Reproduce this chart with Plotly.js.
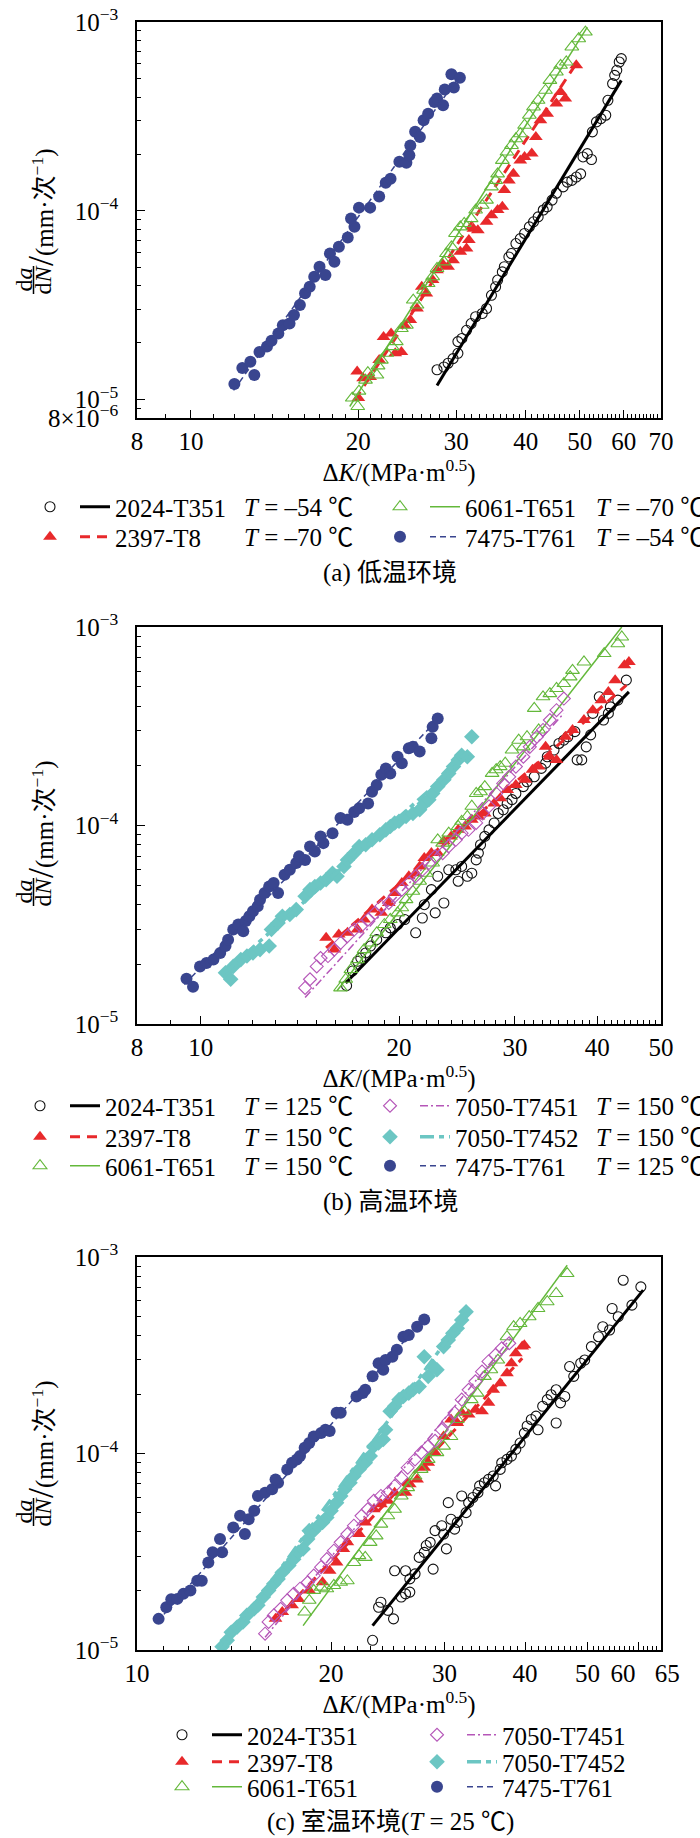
<!DOCTYPE html>
<html>
<head>
<meta charset="utf-8">
<script src="https://cdn.plot.ly/plotly-3.0.1.min.js"></script>
<style>html,body{margin:0;padding:0;background:#fff}#chart{width:700px;height:1838px}</style>
</head>
<body>
<div id="chart"></div>
<script>
// ---------------- DATA ----------------
// Panel (a) low temperature
const a2024K  = [27.7,28.5,29.0,29.6,30.2,30.2,30.7,31.3,31.9,32.5,33.4,34.0,34.7,35.3,35.6,36.3,36.6,37.3,37.7,38.4,39.1,39.8,40.6,41.3,42.1,43.0,43.7,44.6,45.4,46.7,47.5,48.4,49.3,50.2,50.7,51.6,52.5,52.7,53.6,54.6,55.7,56.2,57.3,57.8,58.3,58.9,59.4];
const a2024Da = [1.44e-5,1.49e-5,1.56e-5,1.65e-5,1.76e-5,2.03e-5,2.11e-5,2.33e-5,2.53e-5,2.75e-5,2.86e-5,3.04e-5,3.57e-5,3.96e-5,4.30e-5,4.75e-5,5.06e-5,5.70e-5,5.94e-5,6.71e-5,7.13e-5,7.59e-5,8.23e-5,8.75e-5,9.29e-5,1.01e-4,1.05e-4,1.14e-4,1.24e-4,1.34e-4,1.42e-4,1.45e-4,1.51e-4,1.57e-4,1.93e-4,2.01e-4,1.87e-4,2.62e-4,2.96e-4,3.08e-4,3.21e-4,3.85e-4,4.72e-4,5.22e-4,5.55e-4,6.14e-4,6.4e-4];
const a2024FitK = [27.7, 59.4];
const a2024FitDa = [1.19e-5, 4.91e-4];

const a2397K  = [19.9,20.0,20.4,21.0,21.8,22.2,22.9,23.3,23.9,24.2,24.8,25.5,26.0,26.5,27.2,27.7,28.3,29.0,29.6,30.5,31.3,31.6,32.2,32.8,34.0,34.7,35.6,36.3,36.6,37.3,38.0,39.1,39.8,41.0,41.7,42.5,43.7,45.4,46.2,47.1,49.3];
const a2397Da = [1.41e-5,1.02e-5,1.30e-5,1.32e-5,1.62e-5,2.15e-5,2.24e-5,1.76e-5,1.79e-5,2.48e-5,2.64e-5,3.04e-5,3.96e-5,3.65e-5,4.30e-5,4.85e-5,5.26e-5,5.06e-5,5.48e-5,6.07e-5,6.31e-5,7.0e-5,8.05e-5,7.9e-5,8.75e-5,9.48e-5,1.01e-4,1.05e-4,1.29e-4,1.45e-4,1.57e-4,1.85e-4,1.93e-4,2.01e-4,2.46e-4,3.02e-4,3.27e-4,3.70e-4,4.26e-4,3.93e-4,5.90e-4];
const a2397FitK = [19.7, 49.3];
const a2397FitDa = [9.96e-6, 6.03e-4];

const a6061K  = [19.5,19.95,20.05,20.6,20.8,21.6,21.7,22.0,22.5,23.0,23.4,23.9,24.4,25.1,25.5,26.2,26.7,27.2,27.7,28.5,28.8,29.4,29.9,30.5,31.0,31.9,32.5,33.4,34.0,34.7,35.3,35.6,36.3,37.0,37.7,38.4,39.1,39.8,40.6,41.3,42.1,43.4,44.2,45.4,46.2,47.3,48.4,49.8,51.2];
const a6061Da = [1.02e-5,9.2e-6,1.11e-5,1.27e-5,1.39e-5,1.35e-5,1.51e-5,1.62e-5,1.76e-5,1.91e-5,2.03e-5,2.38e-5,2.48e-5,3.37e-5,3.17e-5,3.80e-5,4.12e-5,4.48e-5,4.95e-5,5.37e-5,5.94e-5,6.45e-5,7.59e-5,8.23e-5,8.57e-5,9.1e-5,1.01e-4,1.07e-4,1.14e-4,1.34e-4,1.45e-4,1.57e-4,1.85e-4,2.05e-4,2.22e-4,2.41e-4,2.56e-4,2.84e-4,3.21e-4,3.55e-4,3.85e-4,4.35e-4,4.91e-4,5.44e-4,5.90e-4,6.14e-4,7.38e-4,8.16e-4,8.85e-4];
const a6061FitK = [19.3, 51.6];
const a6061FitDa = [9.2e-6, 9.4e-4];

const a7475K  = [11.97,12.37,12.79,13.0,13.28,13.7,13.96,14.36,14.63,15.04,15.32,15.7,16.04,16.35,16.66,17.03,17.45,17.78,18.11,18.45,19.14,19.4,19.68,20.05,21.0,21.8,22.4,22.85,23.7,24.4,24.7,24.8,25.3,25.8,26.2,26.7,27.4,27.7,28.4,28.6,29.4,29.7,30.45];
const a7475Da = [1.21e-5,1.47e-5,1.59e-5,1.35e-5,1.79e-5,1.91e-5,2.05e-5,2.24e-5,2.48e-5,2.53e-5,2.81e-5,3.17e-5,3.66e-5,3.96e-5,4.48e-5,5.06e-5,4.57e-5,5.94e-5,5.37e-5,6.45e-5,7.23e-5,9.1e-5,8.23e-5,1.04e-4,1.04e-4,1.19e-4,1.41e-4,1.48e-4,1.82e-4,1.80e-4,1.97e-4,2.22e-4,2.62e-4,2.46e-4,3.02e-4,3.27e-4,3.77e-4,3.93e-4,3.62e-4,4.39e-4,5.29e-4,4.50e-4,5.07e-4];
const a7475FitK = [11.93, 30.45];
const a7475FitDa = [1.12e-5, 5.22e-4];

// Panel (b) high temperature
const b2024K  = [16.65,17.0,17.3,17.5,17.8,18.1,18.5,19.1,19.4,19.9,20.4,21.2,21.7,21.85,22.7,23.4,22.4,22.9,23.8,24.4,24.9,24.6,25.4,25.8,26.2,26.4,26.6,27.0,27.4,27.9,28.3,28.8,29.2,29.7,30.1,30.9,31.3,32.1,32.9,33.4,33.6,34.4,35.0,35.6,36.1,37.0,37.3,37.9,38.5,39.1,39.4,40.3,40.9,41.6,41.9,43.0,44.3];
const b2024Da = [1.56e-5,1.85e-5,2.07e-5,2.15e-5,2.28e-5,2.47e-5,2.66e-5,2.88e-5,3.05e-5,3.17e-5,3.36e-5,2.88e-5,3.42e-5,3.99e-5,3.63e-5,4.07e-5,4.75e-5,5.55e-5,5.98e-5,5.98e-5,6.22e-5,5.24e-5,5.55e-5,5.75e-5,6.71e-5,7.26e-5,8.0e-5,8.81e-5,9.51e-5,1.03e-4,1.15e-4,1.20e-4,1.29e-4,1.35e-4,1.45e-4,1.57e-4,1.66e-4,1.76e-4,1.94e-4,2.06e-4,2.22e-4,2.40e-4,2.59e-4,2.69e-4,2.80e-4,2.97e-4,2.14e-4,2.14e-4,2.49e-4,2.86e-4,3.67e-4,4.45e-4,3.40e-4,3.67e-4,3.96e-4,4.28e-4,5.40e-4];
const b2024FitK = [16.6, 44.7];
const b2024FitDa = [1.61e-5, 4.71e-4];

const b2397K  = [15.5,15.95,16.2,16.7,17.3,17.7,18.2,18.8,19.3,19.7,20.2,20.7,21.2,21.5,21.85,22.4,22.9,23.4,24.0,24.6,25.2,25.8,26.4,27.0,27.9,28.5,29.2,30.1,31.1,31.9,32.6,33.4,33.9,34.7,35.8,36.7,38.2,39.4,40.6,41.6,42.6,44.0,44.7];
const b2397Da = [2.72e-5,2.37e-5,2.82e-5,2.88e-5,2.99e-5,3.36e-5,3.77e-5,3.63e-5,4.07e-5,4.57e-5,5.13e-5,5.55e-5,5.75e-5,6.22e-5,6.86e-5,7.26e-5,7.26e-5,8.32e-5,8.81e-5,9.51e-5,9.89e-5,1.07e-4,1.11e-4,1.15e-4,1.29e-4,1.37e-4,1.51e-4,1.60e-4,1.70e-4,1.91e-4,1.98e-4,2.49e-4,2.22e-4,2.14e-4,2.80e-4,3.03e-4,3.40e-4,3.81e-4,4.28e-4,4.71e-4,5.40e-4,6.41e-4,6.67e-4];
const b2397FitK = [15.5, 44.3];
const b2397FitDa = [2.42e-5, 5.09e-4];

const b6061K  = [16.3,16.6,16.9,17.3,17.7,18.1,18.5,19.0,19.4,19.9,20.2,20.5,21.0,21.5,22.0,22.5,22.9,23.3,23.8,24.6,24.9,25.4,25.8,26.2,26.6,27.0,27.7,28.1,28.5,29.0,29.7,30.4,30.9,31.3,32.1,32.6,33.1,33.9,34.7,35.6,36.4,36.7,38.2,41.0,43.0,43.6];
const b6061Da = [1.52e-5,1.68e-5,1.88e-5,2.11e-5,2.37e-5,2.56e-5,2.88e-5,3.17e-5,3.36e-5,3.63e-5,3.85e-5,4.23e-5,4.66e-5,5.24e-5,5.75e-5,6.47e-5,8.47e-5,8.15e-5,9.15e-5,9.89e-5,1.05e-4,1.11e-4,1.25e-4,1.45e-4,1.48e-4,1.57e-4,1.83e-4,1.91e-4,1.98e-4,2.06e-4,2.40e-4,2.69e-4,2.49e-4,2.80e-4,3.89e-4,3.03e-4,4.45e-4,4.62e-4,4.90e-4,5.19e-4,5.61e-4,6.05e-4,6.67e-4,7.35e-4,8.24e-4,8.91e-4];
const b6061FitK = [16.1, 43.6];
const b6061FitDa = [1.47e-5, 1.0e-3];

const b7451K  = [14.4,14.65,15.0,15.2,15.6,15.95,16.3,16.7,17.1,17.5,17.95,18.4,18.8,19.3,19.7,20.2,20.7,21.2,21.7,22.2,22.7,23.3,23.8,24.4,24.9,25.5,26.2,26.8,27.4,28.1,28.8,29.4,30.1,30.9,31.6,32.4,33.1,33.9,34.7,35.6];
const b7451Da = [1.52e-5,1.68e-5,1.95e-5,2.15e-5,2.20e-5,2.37e-5,2.56e-5,2.77e-5,2.99e-5,3.10e-5,3.36e-5,3.63e-5,3.92e-5,4.07e-5,4.40e-5,4.75e-5,5.13e-5,5.55e-5,5.98e-5,6.47e-5,6.99e-5,7.26e-5,7.84e-5,8.47e-5,9.15e-5,9.51e-5,1.03e-4,1.15e-4,1.25e-4,1.45e-4,1.63e-4,1.76e-4,1.98e-4,2.22e-4,2.49e-4,2.80e-4,3.03e-4,3.40e-4,3.81e-4,4.36e-4];
const b7451FitK = [14.4, 35.6];
const b7451FitDa = [1.36e-5, 3.67e-4];

const b7452K  = [10.9,11.1,11.2,11.5,11.75,12.0,12.3,12.7,12.8,13.1,13.3,13.65,13.96,14.4,14.65,14.9,15.2,15.5,15.85,16.1,16.5,16.7,17.1,17.4,17.8,18.2,18.7,19.1,19.4,19.7,20.0,20.5,21.0,21.5,21.85,22.2,22.5,22.9,23.4,23.8,24.2,24.6,24.9,25.4,25.8];
const b7452Da = [1.81e-5,1.68e-5,1.95e-5,2.11e-5,2.20e-5,2.28e-5,2.37e-5,2.47e-5,2.99e-5,3.23e-5,3.49e-5,3.56e-5,3.77e-5,4.40e-5,4.75e-5,4.93e-5,5.13e-5,5.33e-5,5.75e-5,5.55e-5,6.22e-5,6.71e-5,7.26e-5,7.84e-5,8.0e-5,8.47e-5,8.98e-5,9.51e-5,9.89e-5,1.03e-4,1.05e-4,1.11e-4,1.15e-4,1.20e-4,1.29e-4,1.35e-4,1.45e-4,1.57e-4,1.70e-4,1.83e-4,1.98e-4,2.14e-4,2.26e-4,2.22e-4,2.80e-4];
const b7452FitK = [10.8, 25.5];
const b7452FitDa = [1.78e-5, 2.26e-4];

const b7475K  = [9.51,9.73,9.97,10.2,10.45,10.7,10.9,11.0,11.2,11.4,11.6,11.7,11.85,12.0,12.2,12.3,12.5,12.7,12.9,13.1,13.4,13.65,13.96,14.1,14.4,14.65,14.9,15.2,15.35,15.85,16.3,16.7,17.1,17.4,17.95,18.2,18.5,18.8,19.1,19.4,19.9,20.2,20.7,21.0,21.5,22.4,22.5,22.9];
const b7475Da = [1.69e-5,1.54e-5,1.95e-5,2.03e-5,2.11e-5,2.28e-5,2.47e-5,2.66e-5,2.99e-5,3.17e-5,2.93e-5,3.30e-5,3.49e-5,3.70e-5,3.92e-5,4.23e-5,4.57e-5,4.93e-5,5.13e-5,4.57e-5,5.65e-5,5.98e-5,6.47e-5,6.99e-5,6.71e-5,7.84e-5,7.40e-5,8.81e-5,8.15e-5,9.15e-5,1.09e-4,1.07e-4,1.17e-4,1.22e-4,1.29e-4,1.48e-4,1.60e-4,1.80e-4,1.94e-4,1.83e-4,2.22e-4,2.06e-4,2.45e-4,2.49e-4,2.36e-4,2.75e-4,3.14e-4,3.46e-4];
const b7475FitK = [9.44, 23.1];
const b7475FitDa = [1.58e-5, 3.53e-4];

// Panel (c) room temperature
const c2024K  = [23.2,23.7,23.9,24.5,25.0,25.1,25.7,26.1,26.5,26.1,26.5,27.0,27.4,27.9,28.1,28.5,28.8,29.0,29.7,29.9,30.2,30.7,31.1,31.4,31.9,30.4,32.4,32.7,33.2,33.8,34.0,34.6,35.1,35.7,36.0,36.6,36.8,37.5,38.1,38.7,39.3,39.9,40.3,40.9,41.6,41.9,42.6,43.3,43.9,44.7,44.7,45.4,46.1,46.9,47.6,48.8,49.5,50.7,52.0,52.8,54.1,54.6,55.8,56.8,58.6,60.5];
const c2024Da = [1.12e-5,1.65e-5,1.75e-5,1.59e-5,1.44e-5,2.53e-5,1.86e-5,1.93e-5,1.97e-5,2.53e-5,2.30e-5,2.44e-5,2.96e-5,3.14e-5,3.40e-5,3.53e-5,2.58e-5,4.05e-5,4.29e-5,3.89e-5,3.27e-5,4.63e-5,4.12e-5,4.46e-5,6.08e-5,5.62e-5,5.00e-5,5.62e-5,5.97e-5,6.32e-5,6.84e-5,7.10e-5,7.38e-5,7.68e-5,6.84e-5,8.30e-5,8.97e-5,9.33e-5,9.70e-5,1.05e-4,1.13e-4,1.27e-4,1.38e-4,1.49e-4,1.55e-4,1.32e-4,1.74e-4,1.88e-4,1.99e-4,2.11e-4,1.43e-4,1.81e-4,1.95e-4,2.77e-4,2.47e-4,2.88e-4,2.99e-4,3.50e-4,3.93e-4,4.42e-4,4.25e-4,5.47e-4,4.97e-4,7.62e-4,5.69e-4,7.05e-4];
const c2024FitK = [23.2, 61.0];
const c2024FitDa = [1.33e-5, 6.78e-4];

const c2397K  = [16.4,16.8,17.4,17.8,18.5,19.4,19.9,20.4,20.9,21.2,22.1,22.6,23.3,23.9,24.5,25.1,26.1,26.5,27.2,27.9,28.3,29.0,29.9,30.7,31.4,31.9,32.7,33.5,34.3,35.1,35.7,36.6,37.5,38.1,38.7,39.6,39.9];
const c2397Da = [1.44e-5,1.56e-5,1.69e-5,1.82e-5,2.01e-5,2.21e-5,2.53e-5,2.79e-5,3.27e-5,3.53e-5,3.89e-5,4.46e-5,5.20e-5,5.52e-5,5.74e-5,6.32e-5,6.32e-5,6.97e-5,7.38e-5,8.47e-5,8.97e-5,1.01e-4,1.22e-4,1.49e-4,1.43e-4,1.61e-4,1.58e-4,1.67e-4,1.64e-4,1.81e-4,2.11e-4,2.28e-4,2.56e-4,2.88e-4,3.24e-4,3.50e-4,3.56e-4];
const c2397FitK = [16.3, 39.6];
const c2397FitDa = [1.39e-5, 3.05e-4];

const c6061K  = [18.2,18.5,18.8,19.3,19.7,20.2,20.7,21.2,21.7,22.1,22.6,23.0,23.5,23.9,24.5,25.1,25.7,26.3,27.0,27.6,28.3,29.2,29.9,30.7,31.4,32.2,33.0,33.7,34.6,35.4,36.3,37.5,38.4,39.3,40.6,41.9,43.3,44.7,46.5];
const c6061Da = [1.56e-5,1.79e-5,2.01e-5,2.09e-5,2.05e-5,2.13e-5,2.21e-5,2.25e-5,2.79e-5,3.02e-5,2.96e-5,3.53e-5,3.81e-5,4.37e-5,4.82e-5,5.20e-5,6.08e-5,6.70e-5,7.68e-5,8.30e-5,9.33e-5,1.01e-4,1.09e-4,1.22e-4,1.49e-4,1.64e-4,1.88e-4,2.03e-4,2.47e-4,2.67e-4,2.99e-4,3.93e-4,4.42e-4,4.59e-4,4.97e-4,5.47e-4,5.92e-4,6.52e-4,8.24e-4];
const c6061FitK = [18.1, 46.5];
const c6061FitDa = [1.33e-5, 9.08e-4];

const c7451K  = [15.8,16.0,16.3,16.7,17.1,17.5,17.9,18.4,18.8,19.3,19.7,20.2,20.7,21.2,21.7,22.3,22.8,23.3,23.9,24.5,25.1,25.7,26.3,27.0,27.6,28.3,29.0,29.7,30.4,31.1,31.9,32.7,33.5,34.3,35.1,36.0,36.8,37.8];
const c7451Da = [1.21e-5,1.39e-5,1.50e-5,1.62e-5,1.79e-5,1.93e-5,2.05e-5,2.21e-5,2.39e-5,2.64e-5,2.90e-5,3.20e-5,3.53e-5,3.89e-5,4.29e-5,4.82e-5,5.20e-5,5.74e-5,6.08e-5,6.32e-5,6.84e-5,7.53e-5,8.47e-5,9.33e-5,1.01e-4,1.09e-4,1.16e-4,1.32e-4,1.46e-4,1.61e-4,1.88e-4,2.11e-4,2.33e-4,2.61e-4,2.94e-4,3.18e-4,3.43e-4,3.64e-4];
const c7451FitK = [15.8, 38.0];
const c7451FitDa = [1.16e-5, 3.86e-4];

const c7452K  = [13.55,13.8,14.0,14.3,14.6,14.8,15.2,15.4,15.7,16.0,16.3,16.55,16.8,17.2,17.5,17.8,18.1,18.4,18.5,18.8,19.1,19.4,19.7,20.0,20.4,20.7,21.0,21.4,21.7,22.1,22.6,23.0,23.3,23.7,24.1,24.3,24.7,25.1,25.5,25.9,26.4,26.8,27.4,27.9,28.3,28.8,29.2,29.9,30.4,30.9,31.4,31.9,32.4];
const c7452Da = [1.04e-5,1.12e-5,1.23e-5,1.31e-5,1.39e-5,1.50e-5,1.62e-5,1.69e-5,1.86e-5,2.01e-5,2.17e-5,2.30e-5,2.48e-5,2.69e-5,2.90e-5,3.14e-5,3.27e-5,3.67e-5,4.05e-5,4.05e-5,4.29e-5,4.46e-5,4.72e-5,5.11e-5,5.62e-5,6.08e-5,6.58e-5,7.10e-5,7.68e-5,8.30e-5,8.97e-5,9.70e-5,1.09e-4,1.13e-4,1.18e-4,1.32e-4,1.64e-4,1.74e-4,1.88e-4,1.95e-4,2.03e-4,2.11e-4,2.19e-4,3.11e-4,2.47e-4,2.77e-4,2.67e-4,3.50e-4,3.78e-4,4.09e-4,4.34e-4,4.78e-4,5.26e-4];
const c7452FitK = [13.45, 32.7];
const c7452FitDa = [9.8e-6, 5.37e-4];

const c7475K  = [10.8,11.1,11.3,11.55,11.8,12.1,12.4,12.6,12.9,13.1,13.55,13.45,14.1,14.45,14.7,14.9,15.2,15.4,15.8,16.2,16.55,16.4,17.1,17.4,17.7,17.9,18.2,18.5,18.8,19.3,19.6,19.9,20.4,20.7,21.9,22.4,22.6,23.2,23.7,24.1,24.3,24.9,25.3,25.9,26.4,27.2,27.9];
const c7475Da = [1.44e-5,1.65e-5,1.81e-5,1.82e-5,1.93e-5,2.01e-5,2.25e-5,2.25e-5,2.79e-5,3.14e-5,3.14e-5,3.67e-5,4.20e-5,4.82e-5,3.89e-5,4.63e-5,5.11e-5,6.08e-5,6.32e-5,6.58e-5,7.10e-5,7.38e-5,8.30e-5,8.97e-5,9.33e-5,9.70e-5,1.07e-4,1.13e-4,1.22e-4,1.27e-4,1.32e-4,1.30e-4,1.61e-4,1.61e-4,1.95e-4,2.03e-4,2.11e-4,2.47e-4,2.88e-4,2.67e-4,2.99e-4,3.11e-4,3.37e-4,3.93e-4,4.01e-4,4.42e-4,4.81e-4];
const c7475FitK = [10.75, 27.9];
const c7475FitDa = [1.39e-5, 4.87e-4];

// Tick labels
const xTicksA = [8,10,20,30,40,50,60,70];
const xTickTextA = ['8','10','20','30','40','50','60','70'];
const xTicksB = [8,10,20,30,40,50];
const xTickTextB = ['8','10','20','30','40','50'];
const xTicksC = [10,20,30,40,50,60,65];
const xTickTextC = ['10','20','30','40','50','60\u00a0\u00a0\u00a0\u00a0\u00a0','\u00a0\u00a065'];
const yTicksA = [8e-6,1e-5,1e-4,1e-3];
const yTickTextA = ['8×10<sup>−6</sup>','10<sup>−5</sup>','10<sup>−4</sup>','10<sup>−3</sup>'];
const yTicksBC = [1e-5,1e-4,1e-3];
const yTickTextBC = ['10<sup>−5</sup>','10<sup>−4</sup>','10<sup>−3</sup>'];

// Legend texts
const tempA = {'2024-T351':'–54','2397-T8':'–70','6061-T651':'–70','7475-T761':'–54'};
const tempB = {'2024-T351':'125','2397-T8':'150','6061-T651':'150','7050-T7451':'150','7050-T7452':'150','7475-T761':'125'};
const captions = ['(a) 低温环境','(b) 高温环境','(c) 室温环境(<i>T</i> = 25 ℃)'];

// ---------------- STYLE / LAYOUT ----------------
const W = 700, H = 1838;
const FONT = 'Liberation Serif, Noto Sans CJK SC, serif';
const px = v => v / W, py = v => 1 - v / H;

const STYLE = {
  '2024-T351': {marker:{symbol:'circle-open', color:'#111', size:10, line:{width:1.1, color:'#111'}}, line:{color:'#000', width:3, dash:'solid'}},
  '2397-T8':   {marker:{symbol:'triangle-up', color:'#e8292b', size:12}, line:{color:'#e8292b', width:3, dash:'10px,7px'}},
  '6061-T651': {marker:{symbol:'triangle-up-open', color:'#63b83a', size:12, line:{width:1.1, color:'#63b83a'}}, line:{color:'#63b83a', width:1.5, dash:'solid'}},
  '7050-T7451':{marker:{symbol:'diamond-open', color:'#b556b8', size:10, line:{width:1.1, color:'#b556b8'}}, line:{color:'#b556b8', width:1.5, dash:'8px,3px,2px,3px'}},
  '7050-T7452':{marker:{symbol:'diamond', color:'#6cc6c3', size:12}, line:{color:'#6cc6c3', width:3.5, dash:'14px,5px,5px,5px'}},
  '7475-T761': {marker:{symbol:'circle', color:'#39458f', size:12}, line:{color:'#39458f', width:1.5, dash:'6px,4px'}}
};

const X0 = 137, X1 = 661;
const panels = [
  {xa:'x', ya:'y', top:22, bot:418, xr:[8,70], yr:[8e-6,1e-3], xt:xTicksA, xtt:xTickTextA, yt:yTicksA, ytt:yTickTextA,
   frac:280, capY:573, temps:tempA,
   series:[
     {alloy:'2024-T351', K:a2024K, da:a2024Da, fK:a2024FitK, fD:a2024FitDa, lx:30, ly:507, tx:242},
     {alloy:'2397-T8',   K:a2397K, da:a2397Da, fK:a2397FitK, fD:a2397FitDa, lx:30, ly:537, tx:242},
     {alloy:'6061-T651', K:a6061K, da:a6061Da, fK:a6061FitK, fD:a6061FitDa, lx:380, ly:507, tx:594},
     {alloy:'7475-T761', K:a7475K, da:a7475Da, fK:a7475FitK, fD:a7475FitDa, lx:380, ly:537, tx:594}
   ]},
  {xa:'x2', ya:'y2', top:627, bot:1024, xr:[8,50], yr:[1e-5,1e-3], xt:xTicksB, xtt:xTickTextB, yt:yTicksBC, ytt:yTickTextBC,
   frac:892, capY:1202, temps:tempB,
   series:[
     {alloy:'2024-T351', K:b2024K, da:b2024Da, fK:b2024FitK, fD:b2024FitDa, lx:20, ly:1106, tx:242},
     {alloy:'2397-T8',   K:b2397K, da:b2397Da, fK:b2397FitK, fD:b2397FitDa, lx:20, ly:1137, tx:242},
     {alloy:'6061-T651', K:b6061K, da:b6061Da, fK:b6061FitK, fD:b6061FitDa, lx:20, ly:1166, tx:242},
     {alloy:'7050-T7451',K:b7451K, da:b7451Da, fK:b7451FitK, fD:b7451FitDa, lx:370, ly:1106, tx:594},
     {alloy:'7050-T7452',K:b7452K, da:b7452Da, fK:b7452FitK, fD:b7452FitDa, lx:370, ly:1137, tx:594},
     {alloy:'7475-T761', K:b7475K, da:b7475Da, fK:b7475FitK, fD:b7475FitDa, lx:370, ly:1166, tx:594}
   ]},
  {xa:'x3', ya:'y3', top:1257, bot:1650, xr:[10,65], yr:[1e-5,1e-3], xt:xTicksC, xtt:xTickTextC, yt:yTicksBC, ytt:yTickTextBC,
   frac:1512, capY:1822, temps:null,
   series:[
     {alloy:'2024-T351', K:c2024K, da:c2024Da, fK:c2024FitK, fD:c2024FitDa, lx:162, ly:1735},
     {alloy:'2397-T8',   K:c2397K, da:c2397Da, fK:c2397FitK, fD:c2397FitDa, lx:162, ly:1762},
     {alloy:'6061-T651', K:c6061K, da:c6061Da, fK:c6061FitK, fD:c6061FitDa, lx:162, ly:1787},
     {alloy:'7050-T7451',K:c7451K, da:c7451Da, fK:c7451FitK, fD:c7451FitDa, lx:417, ly:1735},
     {alloy:'7050-T7452',K:c7452K, da:c7452Da, fK:c7452FitK, fD:c7452FitDa, lx:417, ly:1762},
     {alloy:'7475-T761', K:c7475K, da:c7475Da, fK:c7475FitK, fD:c7475FitDa, lx:417, ly:1787}
   ]}
];

function intMinor(lo, hi, majors) { const v = []; for (let k = lo; k <= hi; k++) if (!majors.includes(k)) v.push(k); return v; }
function decMinor(lo, hi) { const v = []; for (let e = -6; e <= -4; e++) for (let m = 2; m <= 9; m++) { const t = m * Math.pow(10, e); if (t > lo * 1.0001 && t < hi * 0.9999) v.push(t); } return v; }

const traces = [];
const layout = {
  width: W, height: H, autosize: false,
  margin: {l:0, r:0, t:0, b:0, pad:0},
  paper_bgcolor: '#fff', plot_bgcolor: '#fff',
  font: {family: FONT, size: 25, color: '#000'},
  annotations: [], shapes: [], showlegend: true
};

const txt = (size) => ({family: FONT, size: size, color: '#000'});
let legendIdx = 0;
panels.forEach((p, pi) => {
  const n = pi === 0 ? '' : String(pi + 1);
  const eps = 1e-4;
  const axCommon = {
    type: 'log', showline: true, linecolor: '#000', linewidth: 1.5, mirror: true,
    ticks: 'inside', ticklen: 8, tickwidth: 1.2, tickcolor: '#000', tickangle: 0,
    showgrid: false, zeroline: false, automargin: false,
    tickfont: txt(25), tickmode: 'array'
  };
  layout['xaxis' + n] = Object.assign({}, axCommon, {
    domain: [px(X0), px(X1)], anchor: p.ya,
    range: [Math.log10(p.xr[0]) - eps, Math.log10(p.xr[1]) + eps],
    tickvals: p.xt, ticktext: p.xtt,
    minor: {ticks: 'inside', ticklen: 4, tickwidth: 1, tickcolor: '#000', showgrid: false,
            tickmode: 'array', tickvals: intMinor(p.xr[0], p.xr[1], p.xt)},
    title: {text: 'Δ<i>K</i>/(MPa·m<sup>0.5</sup>)', font: txt(25), standoff: 8}
  });
  layout['yaxis' + n] = Object.assign({}, axCommon, {
    domain: [py(p.bot), py(p.top)], anchor: p.xa,
    range: [Math.log10(p.yr[0]) - eps, Math.log10(p.yr[1]) + eps],
    tickvals: p.yt, ticktext: p.ytt, ticklabelstandoff: 12,
    minor: {ticks: 'inside', ticklen: 4, tickwidth: 1, tickcolor: '#000', showgrid: false,
            tickmode: 'array', tickvals: decMinor(p.yr[0], p.yr[1])}
  });

  p.series.forEach(s => {
    const st = STYLE[s.alloy];
    legendIdx++;
    const lid = legendIdx === 1 ? 'legend' : 'legend' + legendIdx;
    traces.push({type: 'scatter', mode: 'markers', x: s.K, y: s.da, xaxis: p.xa, yaxis: p.ya,
      marker: st.marker, name: '', legend: lid, showlegend: true, hoverinfo: 'x+y'});
    traces.push({type: 'scatter', mode: 'lines', x: s.fK, y: s.fD, xaxis: p.xa, yaxis: p.ya,
      line: st.line, name: s.alloy, legend: lid, showlegend: true, hoverinfo: 'skip'});
    layout[lid] = {orientation: 'h', x: px(s.lx), y: py(s.ly), xanchor: 'left', yanchor: 'middle',
      bgcolor: 'rgba(0,0,0,0)', borderwidth: 0, traceorder: 'normal', itemclick: false, itemdoubleclick: false,
      font: txt(25), itemsizing: 'trace', tracegroupgap: 0};
    if (p.temps) {
      layout.annotations.push({xref: 'paper', yref: 'paper', x: px(s.tx), y: py(s.ly), xanchor: 'left', yanchor: 'middle',
        showarrow: false, text: '<i>T</i> = ' + p.temps[s.alloy] + ' ℃', font: txt(25)});
    }
  });

  // y-axis title: stacked da/dN fraction followed by the unit
  const bar = 33.5;
  layout.annotations.push({xref: 'paper', yref: 'paper', x: px(bar + 3), y: py(p.frac), xanchor: 'right', yanchor: 'middle',
    showarrow: false, textangle: -90, borderpad: 0, borderwidth: 0, text: 'd<i>a</i>', font: txt(24)});
  layout.annotations.push({xref: 'paper', yref: 'paper', x: px(bar - 4), y: py(p.frac), xanchor: 'left', yanchor: 'middle',
    showarrow: false, textangle: -90, borderpad: 0, borderwidth: 0, text: 'd<i>N</i>', font: txt(24)});
  layout.shapes.push({type: 'line', xref: 'paper', yref: 'paper', x0: px(bar), x1: px(bar), y0: py(p.frac - 14), y1: py(p.frac + 14),
    line: {color: '#000', width: 1.5}});
  layout.annotations.push({xref: 'paper', yref: 'paper', x: px(41), y: py(p.frac - 14), xanchor: 'center', yanchor: 'bottom',
    showarrow: false, textangle: -90, borderpad: 0, borderwidth: 0,
    text: '<span style="font-size:36px">/</span>(mm·次<sup>−1</sup>)', font: txt(25)});
  // caption
  layout.annotations.push({xref: 'paper', yref: 'paper', x: px(390), y: py(p.capY), xanchor: 'center', yanchor: 'middle',
    showarrow: false, text: captions[pi], font: txt(25)});
});

Plotly.newPlot('chart', traces, layout, {displayModeBar: false, responsive: false});
</script>
</body>
</html>
